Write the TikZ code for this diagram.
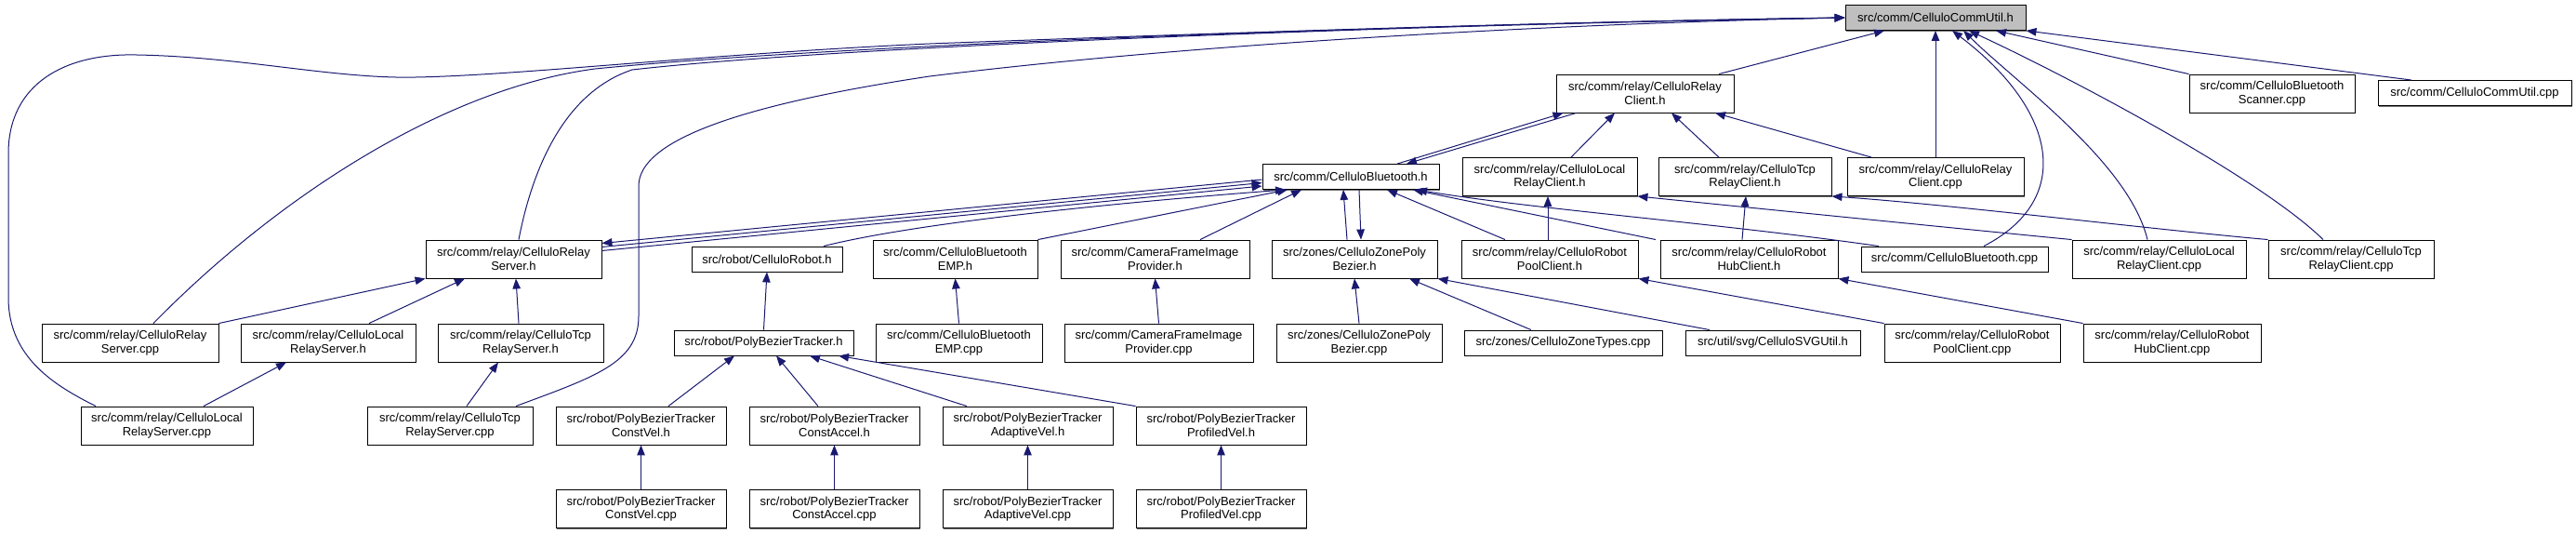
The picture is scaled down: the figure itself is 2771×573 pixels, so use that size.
\documentclass[tikz,border=0pt]{standalone}
\usepackage{fontspec}
\setmainfont{Liberation Sans}
\usetikzlibrary{arrows.meta,shadows}

\definecolor{depblue}{HTML}{191970}
\definecolor{rootgray}{HTML}{BFBFBF}

\tikzset{
  filebox/.style={draw=black, line width=0.9pt, fill=white, align=center,
    inner xsep=2pt, inner ysep=1pt, minimum height=41pt,
    font=\fontsize{13pt}{14.5pt}\selectfont,
    drop shadow={shadow xshift=1.3pt, shadow yshift=-1.3pt, fill=black!55, opacity=1}},
  onebox/.style={filebox, minimum height=27pt},
  rootbox/.style={onebox, fill=rootgray},
  dep/.style={depblue, line width=1pt, -{Triangle[length=11pt,width=8.5pt]}},
}

\begin{document}
\begin{tikzpicture}[x=1pt, y=-1pt]
  \useasboundingbox (0,0) rectangle (2771,573);

  % the header everything hangs from
  \node[rootbox, minimum width=194pt] (cuh) at (2082,19) {src/comm/CelluloCommUtil.h};

  % first level
  \node[filebox, minimum width=191pt] (rch) at (1769.5,100.5) {src/comm/relay/CelluloRelay\\Client.h};
  \node[filebox, minimum width=178pt] (bsc) at (2444,100.5) {src/comm/CelluloBluetooth\\Scanner.cpp};
  \node[onebox, minimum width=208pt] (cuc) at (2662,100) {src/comm/CelluloCommUtil.cpp};

  % second level
  \node[onebox, minimum width=190pt] (bth) at (1453,190) {src/comm/CelluloBluetooth.h};
  \node[filebox, minimum width=188pt] (lrch) at (1667,190) {src/comm/relay/CelluloLocal\\RelayClient.h};
  \node[filebox, minimum width=186pt] (trch) at (1877,190) {src/comm/relay/CelluloTcp\\RelayClient.h};
  \node[filebox, minimum width=190pt] (rcc) at (2082,190) {src/comm/relay/CelluloRelay\\Client.cpp};

  % third level
  \node[filebox, minimum width=189pt] (rsh) at (552.5,278.5) {src/comm/relay/CelluloRelay\\Server.h};
  \node[onebox, minimum width=162pt] (robh) at (825,278.5) {src/robot/CelluloRobot.h};
  \node[filebox, minimum width=177pt] (emph) at (1027.5,278.5) {src/comm/CelluloBluetooth\\EMP.h};
  \node[filebox, minimum width=203pt] (cfph) at (1242.5,278.5) {src/comm/CameraFrameImage\\Provider.h};
  \node[filebox, minimum width=178pt] (zpbh) at (1457,278.5) {src/zones/CelluloZonePoly\\Bezier.h};
  \node[filebox, minimum width=190pt] (rpch) at (1667,278.5) {src/comm/relay/CelluloRobot\\PoolClient.h};
  \node[filebox, minimum width=191pt] (rhch) at (1881.5,278.5) {src/comm/relay/CelluloRobot\\HubClient.h};
  \node[onebox, minimum width=201pt] (btc) at (2102.5,278.5) {src/comm/CelluloBluetooth.cpp};
  \node[filebox, minimum width=187pt] (lrcc) at (2322.5,278.5) {src/comm/relay/CelluloLocal\\RelayClient.cpp};
  \node[filebox, minimum width=178pt] (trcc) at (2529,278.5) {src/comm/relay/CelluloTcp\\RelayClient.cpp};

  % fourth level
  \node[filebox, minimum width=190pt] (rsc) at (140,368.5) {src/comm/relay/CelluloRelay\\Server.cpp};
  \node[filebox, minimum width=188pt] (lrsh) at (353,368.5) {src/comm/relay/CelluloLocal\\RelayServer.h};
  \node[filebox, minimum width=178pt] (trsh) at (560,368.5) {src/comm/relay/CelluloTcp\\RelayServer.h};
  \node[onebox, minimum width=193pt] (pbth) at (821.5,368.5) {src/robot/PolyBezierTracker.h};
  \node[filebox, minimum width=179pt] (empc) at (1031.5,368.5) {src/comm/CelluloBluetooth\\EMP.cpp};
  \node[filebox, minimum width=203pt] (cfpc) at (1246.5,368.5) {src/comm/CameraFrameImage\\Provider.cpp};
  \node[filebox, minimum width=178pt] (zpbc) at (1462,368.5) {src/zones/CelluloZonePoly\\Bezier.cpp};
  \node[onebox, minimum width=213pt] (ztc) at (1681.5,368.5) {src/zones/CelluloZoneTypes.cpp};
  \node[onebox, minimum width=188pt] (svgh) at (1907,368.5) {src/util/svg/CelluloSVGUtil.h};
  \node[filebox, minimum width=189pt] (rpcc) at (2121.5,368.5) {src/comm/relay/CelluloRobot\\PoolClient.cpp};
  \node[filebox, minimum width=191pt] (rhcc) at (2336.5,368.5) {src/comm/relay/CelluloRobot\\HubClient.cpp};

  % fifth level
  \node[filebox, minimum width=185pt] (lrsc) at (179.5,457.5) {src/comm/relay/CelluloLocal\\RelayServer.cpp};
  \node[filebox, minimum width=178pt] (trsc) at (484,457.5) {src/comm/relay/CelluloTcp\\RelayServer.cpp};

  % tracker headers and their sources
  \foreach \nm/\cx/\kind in {cv/689.5/ConstVel, ca/897.5/ConstAccel, av/1105.5/AdaptiveVel, pv/1313.5/ProfiledVel} {
    \node[filebox, minimum width=183pt] (\nm-h) at (\cx,457.5) {src/robot/PolyBezierTracker\\\kind.h};
    \node[filebox, minimum width=183pt] (\nm-c) at (\cx,547) {src/robot/PolyBezierTracker\\\kind.cpp};
    \draw[dep] (\nm-c.north) -- (\nm-h.south);
  }

  % into CelluloCommUtil.h
  \draw[dep] ([xshift=79.5pt]rch.north) -- ([xshift=-55pt]cuh.south);
  \draw[dep] (bsc.north west) -- ([xshift=65pt]cuh.south);
  \draw[dep] ([xshift=-68pt]cuc.north) -- (cuh.south east);
  \draw[dep] (rcc.north) -- (cuh.south);
  \draw[dep] ([xshift=31.5pt]btc.north) .. controls (2230,215) and (2215,120) .. ([xshift=18pt]cuh.south);
  \draw[dep] ([xshift=-12.5pt]lrcc.north) .. controls (2290,175) and (2170,90) .. ([xshift=30pt]cuh.south);
  \draw[dep] ([xshift=-30pt]trcc.north) .. controls (2430,190) and (2220,80) .. ([xshift=36pt]cuh.south);
  \draw[dep] ([xshift=-76.5pt]lrsc.north) .. controls (60,415) and (9,385) .. (9,320) -- (9,165)
    .. controls (9,90) and (70,57) .. (147,59) .. controls (260,61) and (360,85) .. (447,83)
    .. controls (560,81) and (760,58) .. (1000,47) .. controls (1400,32) and (1750,22) .. (cuh.west);
  \draw[dep] ([xshift=25pt]rsc.north) .. controls (300,210) and (480,95) .. (640,74)
    .. controls (900,48) and (1500,27) .. (cuh.west);
  \draw[dep] ([xshift=5.5pt]rsh.north) .. controls (572,185) and (605,100) .. (680,75)
    .. controls (900,50) and (1500,27) .. (cuh.west);
  \draw[dep] ([xshift=71pt]trsc.north) .. controls (640,405) and (687,390) .. (687,340) -- (687,200)
    .. controls (687,150) and (800,112) .. (1000,82) .. controls (1300,45) and (1700,25) .. (cuh.west);

  % into CelluloRelayClient.h
  \draw[dep] ([xshift=50pt]bth.north) -- ([xshift=-88pt]rch.south);
  \draw[dep] ([xshift=-74pt]rch.south) -- ([xshift=60pt]bth.north);
  \draw[dep] ([xshift=23pt]lrch.north) -- ([xshift=-32.5pt]rch.south);
  \draw[dep] ([xshift=-28pt]trch.north) -- ([xshift=28.5pt]rch.south);
  \draw[dep] ([xshift=-69pt]rcc.north) -- ([xshift=75.5pt]rch.south);

  % into CelluloBluetooth.h
  \draw[dep] ([yshift=-3pt]bth.west) -- ([yshift=17pt]rsh.east);
  \draw[dep] ([yshift=13pt]rsh.east) -- ([yshift=-6.5pt]bth.west);
  \draw[dep] ([yshift=9pt]rsh.east) -- ([yshift=-10pt]bth.west);
  \draw[dep] ([xshift=61pt]robh.north) .. controls (1000,236) and (1250,214) .. ([xshift=-70pt]bth.south);
  \draw[dep] (emph.north east) -- ([xshift=-68pt]bth.south);
  \draw[dep] ([xshift=48.5pt]cfph.north) -- ([xshift=-53pt]bth.south);
  \draw[dep] ([xshift=-8pt]zpbh.north) -- ([xshift=-8pt]bth.south);
  \draw[dep] ([xshift=9pt]bth.south) -- ([xshift=7pt]zpbh.north);
  \draw[dep] ([xshift=-48pt]rpch.north) -- ([xshift=39pt]bth.south);
  \draw[dep] ([xshift=-100.5pt]rhch.north) -- ([xshift=67pt]bth.south);
  \draw[dep] ([xshift=-81.5pt]btc.north) .. controls (1850,240) and (1650,225) .. ([xshift=71pt]bth.south);

  % relay clients
  \draw[dep] ([xshift=-2pt]rpch.north) -- ([xshift=-2pt]lrch.south);
  \draw[dep] ([xshift=-7.5pt]rhch.north) -- ([xshift=1pt]trch.south);
  \draw[dep] (lrcc.north west) .. controls (2100,245) and (1900,225) .. (lrch.south east);
  \draw[dep] (trcc.north west) .. controls (2300,245) and (2100,220) .. (trch.south east);

  % relay servers
  \draw[dep] (rsc.north east) -- (rsh.south west);
  \draw[dep] ([xshift=44pt]lrsh.north) -- ([xshift=-52.5pt]rsh.south);
  \draw[dep] ([xshift=-2pt]trsh.north) -- ([xshift=2.5pt]rsh.south);
  \draw[dep] ([xshift=39.5pt]lrsc.north) -- ([xshift=-45pt]lrsh.south);
  \draw[dep] ([xshift=18pt]trsc.north) -- ([xshift=-24pt]trsh.south);

  % robot, camera, zones
  \draw[dep] (pbth.north) -- (robh.south);
  \draw[dep] (empc.north) -- (emph.south);
  \draw[dep] (cfpc.north) -- (cfph.south);
  \draw[dep] (zpbc.north) -- (zpbh.south);
  \draw[dep] ([xshift=-34.5pt]ztc.north) -- ([xshift=59pt]zpbh.south);
  \draw[dep] ([xshift=-68pt]svgh.north) -- (zpbh.south east);
  \draw[dep] (rpcc.north west) -- (rpch.south east);
  \draw[dep] (rhcc.north west) -- (rhch.south east);

  % tracker variants
  \draw[dep] ([xshift=29.5pt]cv-h.north) -- ([xshift=-31.5pt]pbth.south);
  \draw[dep] ([xshift=-17.5pt]ca-h.north) -- ([xshift=13.5pt]pbth.south);
  \draw[dep] ([xshift=-65.5pt]av-h.north) -- ([xshift=49.5pt]pbth.south);
  \draw[dep] (pv-h.north west) -- ([xshift=80.5pt]pbth.south);
\end{tikzpicture}
\end{document}
